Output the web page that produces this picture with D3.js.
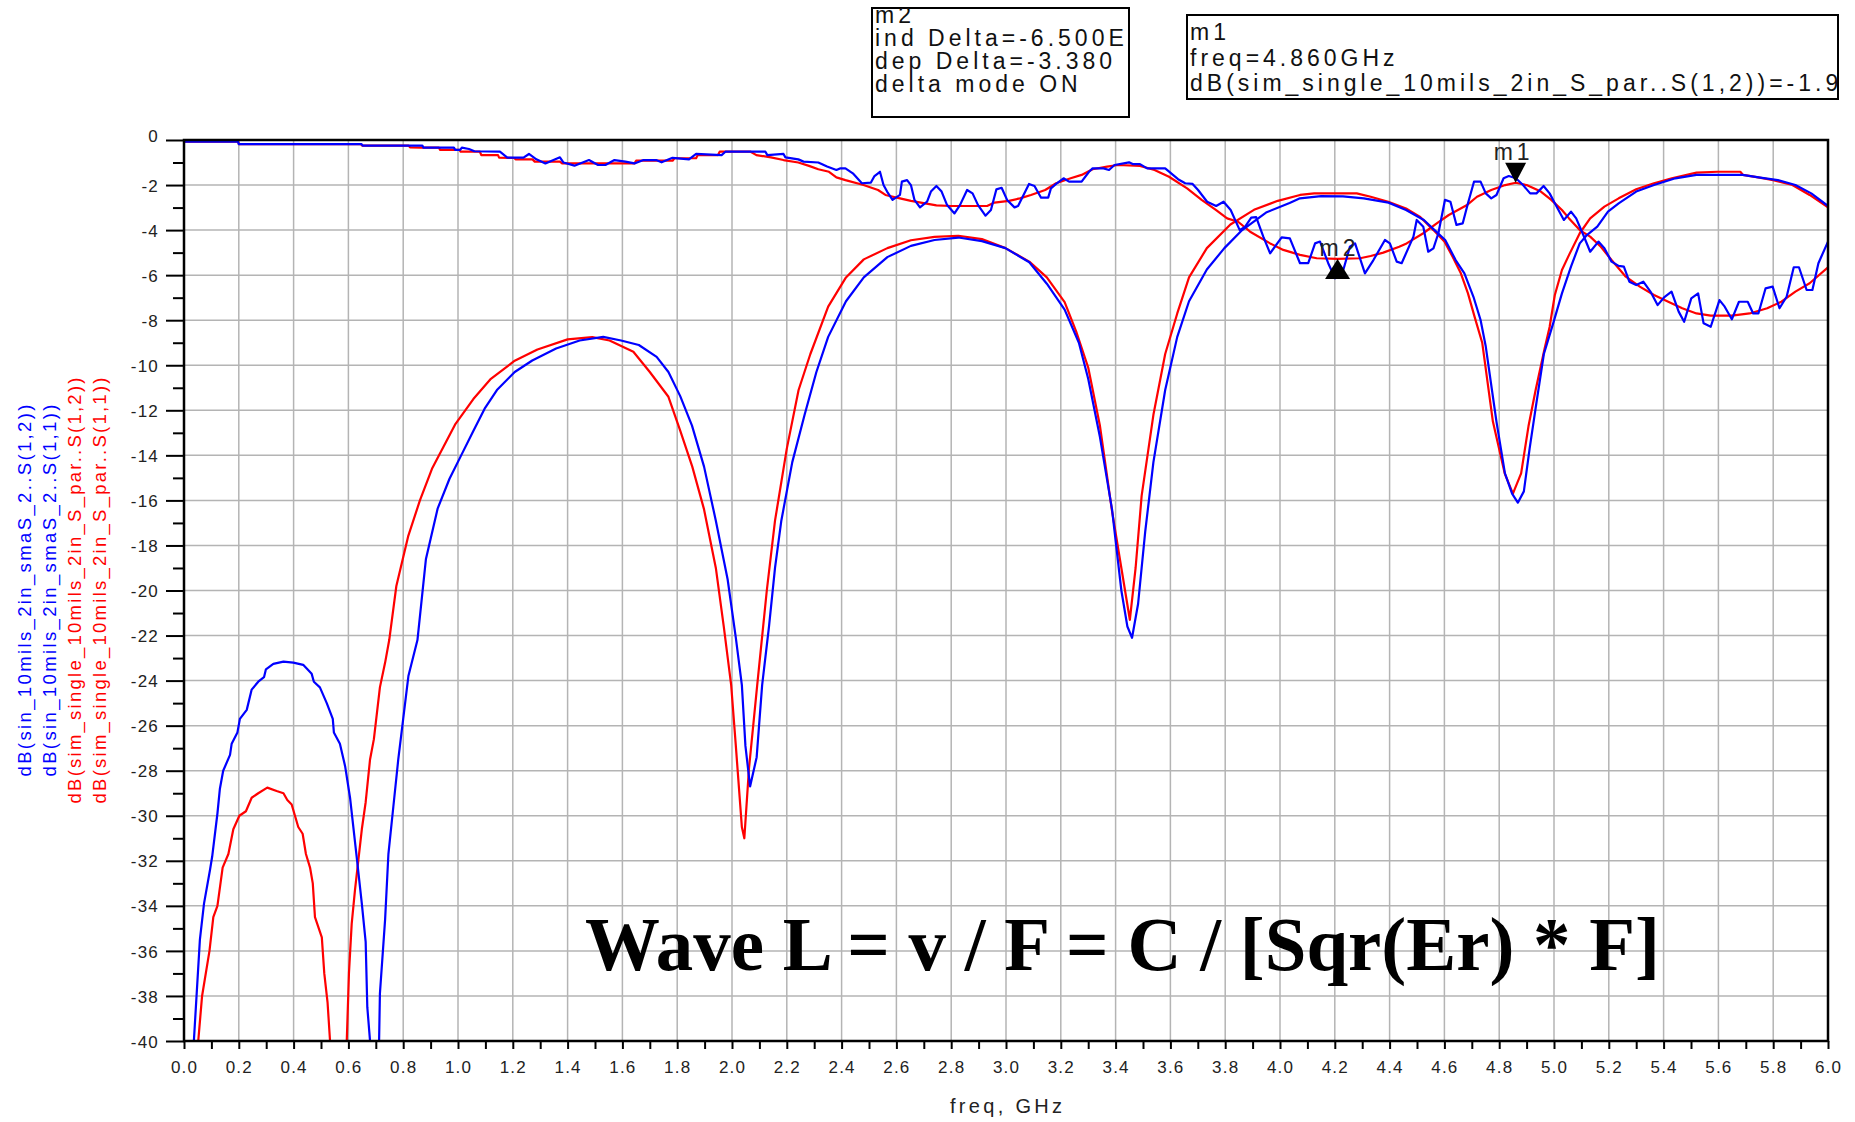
<!DOCTYPE html>
<html>
<head>
<meta charset="utf-8">
<script src="https://cdn.jsdelivr.net/npm/d3@7"></script>
<style>
  html, body { margin: 0; padding: 0; background: #ffffff; }
  svg { display: block; }
</style>
</head>
<body>
<svg id="chart" width="1855" height="1122"></svg>
<script>
// ---------------- data ----------------
const xTickLabels = ["0.0","0.2","0.4","0.6","0.8","1.0","1.2","1.4","1.6","1.8","2.0","2.2","2.4","2.6","2.8",
  "3.0","3.2","3.4","3.6","3.8","4.0","4.2","4.4","4.6","4.8","5.0","5.2","5.4","5.6","5.8","6.0"];
const yTickLabels = ["0","-2","-4","-6","-8","-10","-12","-14","-16","-18","-20","-22","-24","-26","-28",
  "-30","-32","-34","-36","-38","-40"];

const seriesNames = [
  "dB(sin_10mils_2in_smaS_2..S(1,2))",
  "dB(sin_10mils_2in_smaS_2..S(1,1))",
  "dB(sim_single_10mils_2in_S_par..S(1,2))",
  "dB(sim_single_10mils_2in_S_par..S(1,1))"
];

// measured S(1,2), [freq GHz, dB]
const s12Meas = [[0,-0.07],[0.197,-0.07],[0.2,-0.18],[0.648,-0.18],[0.652,-0.25],[0.87,-0.25],[0.874,-0.34],[0.985,-0.34],
  [0.99,-0.44],[1.008,-0.44],[1.014,-0.34],[1.04,-0.40],[1.06,-0.50],[1.153,-0.52],[1.18,-0.78],[1.239,-0.78],[1.259,-0.62],
  [1.286,-0.86],[1.319,-1.04],[1.372,-0.77],[1.385,-1.0],[1.425,-1.14],[1.478,-0.89],[1.511,-1.11],[1.538,-1.11],[1.571,-0.89],
  [1.611,-0.96],[1.644,-1.04],[1.677,-0.89],[1.723,-0.89],[1.743,-0.99],[1.783,-0.79],[1.843,-0.86],[1.869,-0.62],[1.962,-0.67],
  [1.976,-0.52],[2.122,-0.52],[2.129,-0.67],[2.188,-0.62],[2.195,-0.77],[2.242,-0.86],[2.261,-0.96],[2.315,-1.0],[2.347,-1.18],
  [2.381,-1.33],[2.394,-1.26],[2.414,-1.26],[2.441,-1.48],[2.474,-1.92],[2.507,-1.89],[2.52,-1.60],[2.54,-1.41],[2.553,-2.0],
  [2.566,-2.29],[2.586,-2.66],[2.613,-2.44],[2.62,-1.85],[2.639,-1.78],[2.653,-2.0],[2.666,-2.66],[2.686,-2.99],[2.712,-2.74],
  [2.726,-2.29],[2.746,-2.04],[2.765,-2.29],[2.785,-2.89],[2.812,-3.26],[2.832,-2.89],[2.858,-2.22],[2.878,-2.37],[2.898,-2.89],
  [2.925,-3.36],[2.945,-3.11],[2.965,-2.19],[2.984,-2.12],[3.004,-2.66],[3.031,-2.99],[3.044,-2.93],[3.064,-2.44],[3.084,-1.95],
  [3.104,-2.04],[3.128,-2.56],[3.154,-2.56],[3.164,-2.15],[3.183,-1.95],[3.21,-1.70],[3.23,-1.85],[3.276,-1.85],[3.303,-1.41],
  [3.316,-1.26],[3.356,-1.26],[3.376,-1.33],[3.396,-1.11],[3.449,-0.99],[3.462,-1.07],[3.489,-1.07],[3.515,-1.26],[3.581,-1.26],
  [3.628,-1.74],[3.654,-1.92],[3.681,-1.95],[3.701,-2.22],[3.734,-2.74],[3.767,-2.93],[3.794,-2.74],[3.82,-3.11],[3.853,-4.0],
  [3.873,-3.85],[3.895,-3.45],[3.913,-3.42],[3.939,-4.29],[3.964,-5.03],[4.006,-4.32],[4.036,-4.37],[4.073,-5.47],[4.103,-5.47],
  [4.128,-4.59],[4.146,-4.51],[4.176,-5.47],[4.201,-6.14],[4.231,-5.77],[4.255,-4.74],[4.274,-4.59],[4.31,-5.92],[4.341,-5.33],
  [4.383,-4.44],[4.401,-4.59],[4.426,-5.40],[4.444,-5.47],[4.487,-4.29],[4.499,-3.55],[4.523,-3.85],[4.541,-4.96],[4.56,-4.81],
  [4.578,-4.14],[4.602,-2.66],[4.622,-2.74],[4.644,-3.77],[4.667,-3.70],[4.686,-2.81],[4.708,-1.85],[4.732,-1.85],[4.751,-2.37],
  [4.771,-2.59],[4.79,-2.44],[4.816,-1.70],[4.835,-1.60],[4.861,-1.70],[4.887,-2.0],[4.913,-2.37],[4.936,-2.37],[4.962,-2.04],
  [4.984,-2.37],[5.003,-2.81],[5.036,-3.55],[5.062,-3.18],[5.081,-3.48],[5.107,-4.22],[5.132,-4.96],[5.162,-4.51],[5.184,-4.81],
  [5.21,-5.40],[5.236,-5.59],[5.255,-5.62],[5.275,-6.29],[5.30,-6.44],[5.326,-6.29],[5.352,-6.73],[5.378,-7.33],[5.404,-6.96],
  [5.429,-6.73],[5.455,-7.62],[5.475,-8.07],[5.501,-7.03],[5.526,-6.81],[5.546,-8.14],[5.572,-8.29],[5.604,-7.11],[5.623,-7.40],
  [5.649,-7.96],[5.675,-7.18],[5.707,-7.18],[5.727,-7.70],[5.746,-7.70],[5.772,-6.59],[5.798,-6.51],[5.823,-7.47],[5.849,-6.96],
  [5.875,-5.65],[5.894,-5.65],[5.922,-6.66],[5.943,-6.66],[5.965,-5.47],[6.0,-4.51]];

// measured S(1,1)
const s11Meas = [[0.030,-42],[0.036,-40],[0.058,-35.5],[0.073,-33.9],[0.095,-32.4],[0.103,-31.8],[0.122,-29.9],[0.131,-28.8],
  [0.143,-28.0],[0.168,-27.3],[0.174,-26.8],[0.195,-26.3],[0.204,-25.7],[0.229,-25.3],[0.247,-24.4],[0.271,-24.05],[0.292,-23.85],
  [0.299,-23.5],[0.326,-23.26],[0.363,-23.16],[0.399,-23.2],[0.435,-23.3],[0.466,-23.7],[0.474,-24.05],[0.496,-24.3],[0.521,-25.0],
  [0.543,-25.7],[0.547,-26.3],[0.569,-26.8],[0.588,-27.8],[0.606,-29.2],[0.630,-31.8],[0.649,-33.9],[0.663,-35.6],[0.669,-38.5],
  [0.679,-40],[0.695,-46],[0.712,-40],[0.715,-37.9],[0.734,-34.6],[0.746,-31.7],[0.764,-29.6],[0.782,-27.5],[0.800,-25.7],
  [0.819,-23.8],[0.852,-22.2],[0.883,-18.6],[0.926,-16.35],[0.969,-15.04],[1.012,-13.99],[1.055,-12.94],[1.099,-11.89],
  [1.142,-11.1],[1.207,-10.3],[1.271,-9.79],[1.358,-9.26],[1.444,-8.9],[1.530,-8.74],[1.595,-8.9],[1.660,-9.1],[1.725,-9.63],
  [1.768,-10.3],[1.811,-11.37],[1.854,-12.68],[1.898,-14.5],[1.941,-16.9],[1.984,-19.5],[2.014,-22.1],[2.036,-24.2],[2.049,-26.9],
  [2.066,-28.7],[2.09,-27.4],[2.11,-24.2],[2.135,-21.6],[2.157,-19.0],[2.18,-16.9],[2.22,-14.3],[2.265,-12.2],[2.308,-10.3],
  [2.351,-8.74],[2.416,-7.16],[2.481,-6.1],[2.567,-5.2],[2.653,-4.7],[2.739,-4.44],[2.826,-4.33],[2.912,-4.49],[2.998,-4.8],
  [3.085,-5.43],[3.149,-6.38],[3.214,-7.53],[3.266,-9.0],[3.3,-10.6],[3.343,-13.2],[3.387,-16.4],[3.421,-20.0],[3.443,-21.6],
  [3.46,-22.1],[3.482,-20.6],[3.508,-17.4],[3.538,-14.3],[3.581,-11.1],[3.625,-8.74],[3.668,-7.16],[3.733,-5.75],[3.797,-4.8],
  [3.862,-4.0],[3.949,-3.22],[4.035,-2.8],[4.073,-2.59],[4.150,-2.49],[4.23,-2.5],[4.306,-2.59],[4.396,-2.78],[4.460,-3.11],
  [4.525,-3.55],[4.564,-4.0],[4.603,-4.44],[4.641,-5.33],[4.673,-5.92],[4.706,-6.96],[4.732,-7.99],[4.751,-9.17],[4.79,-12.5],
  [4.821,-14.8],[4.847,-15.7],[4.868,-16.1],[4.89,-15.6],[4.911,-13.7],[4.933,-11.9],[4.963,-9.5],[4.997,-8.14],[5.029,-6.81],
  [5.062,-5.62],[5.094,-4.59],[5.120,-4.22],[5.158,-3.85],[5.197,-3.18],[5.236,-2.81],[5.30,-2.29],[5.365,-2.0],[5.443,-1.70],
  [5.52,-1.55],[5.623,-1.55],[5.688,-1.55],[5.753,-1.67],[5.817,-1.78],[5.881,-2.0],[5.939,-2.37],[6.0,-2.93]];

// simulated S(1,2)
const s12Sim = [[0,-0.07],[0.198,-0.07],[0.2,-0.18],[0.645,-0.18],[0.65,-0.25],[0.82,-0.25],[0.825,-0.33],[0.865,-0.34],
  [0.93,-0.34],[0.935,-0.44],[1.005,-0.44],[1.01,-0.52],[1.08,-0.52],[1.085,-0.67],[1.146,-0.67],[1.15,-0.78],[1.206,-0.80],
  [1.21,-0.86],[1.272,-0.86],[1.28,-0.96],[1.372,-0.96],[1.38,-1.04],[1.644,-1.04],[1.65,-0.92],[1.783,-0.92],[1.79,-0.81],
  [1.869,-0.81],[1.875,-0.67],[1.949,-0.67],[1.955,-0.52],[2.068,-0.52],[2.089,-0.67],[2.142,-0.77],[2.188,-0.89],[2.242,-1.0],
  [2.281,-1.15],[2.315,-1.30],[2.354,-1.41],[2.381,-1.66],[2.414,-1.78],[2.48,-2.0],[2.533,-2.22],[2.56,-2.44],[2.613,-2.59],
  [2.653,-2.70],[2.746,-2.90],[2.799,-2.93],[2.931,-2.93],[2.958,-2.78],[3.011,-2.70],[3.051,-2.59],[3.091,-2.44],[3.143,-2.22],
  [3.183,-1.92],[3.236,-1.70],[3.276,-1.55],[3.316,-1.30],[3.369,-1.18],[3.409,-1.11],[3.489,-1.15],[3.542,-1.33],[3.595,-1.63],
  [3.661,-2.15],[3.714,-2.66],[3.767,-3.11],[3.807,-3.48],[3.847,-3.63],[3.891,-4.07],[3.964,-4.59],[4.012,-4.88],[4.073,-5.10],
  [4.134,-5.25],[4.21,-5.28],[4.292,-5.25],[4.331,-5.15],[4.377,-5.0],[4.435,-4.74],[4.462,-4.59],[4.523,-4.14],[4.572,-3.70],
  [4.616,-3.33],[4.681,-2.90],[4.719,-2.52],[4.771,-2.22],[4.822,-2.0],[4.86,-1.90],[4.9,-2.0],[4.952,-2.29],[4.99,-2.66],
  [5.029,-3.11],[5.055,-3.48],[5.094,-4.0],[5.132,-4.29],[5.171,-4.74],[5.21,-5.33],[5.262,-6.07],[5.313,-6.51],[5.365,-6.88],
  [5.417,-7.18],[5.468,-7.47],[5.52,-7.70],[5.572,-7.80],[5.649,-7.80],[5.714,-7.70],[5.778,-7.47],[5.83,-7.18],[5.881,-6.73],
  [5.933,-6.36],[6.0,-5.65]];

// simulated S(1,1)
const s11Sim = [[0.047,-42],[0.052,-40],[0.066,-38],[0.093,-36],[0.107,-34.5],[0.122,-34],[0.141,-32.3],[0.162,-31.7],
  [0.180,-30.6],[0.202,-30.0],[0.226,-29.8],[0.247,-29.2],[0.271,-29.0],[0.304,-28.75],[0.338,-28.9],[0.363,-29.0],[0.377,-29.3],
  [0.393,-29.5],[0.405,-30.0],[0.417,-30.5],[0.433,-30.8],[0.445,-31.7],[0.460,-32.3],[0.470,-33.0],[0.478,-34.5],[0.503,-35.4],
  [0.512,-37.0],[0.524,-38.3],[0.533,-40],[0.563,-47],[0.594,-40],[0.602,-37.0],[0.612,-34.8],[0.624,-33.3],[0.649,-30.6],
  [0.663,-29.4],[0.679,-27.5],[0.693,-26.6],[0.715,-24.3],[0.734,-23.2],[0.749,-22.2],[0.775,-19.8],[0.818,-17.6],[0.861,-16.0],
  [0.905,-14.6],[0.948,-13.6],[0.991,-12.6],[1.056,-11.5],[1.12,-10.6],[1.207,-9.8],[1.29,-9.3],[1.4,-8.85],[1.49,-8.75],
  [1.553,-8.9],[1.64,-9.4],[1.70,-10.3],[1.768,-11.4],[1.811,-12.9],[1.855,-14.5],[1.898,-16.4],[1.941,-19.0],[1.97,-21.6],
  [1.997,-24.2],[2.014,-26.9],[2.036,-30.5],[2.045,-31.0],[2.062,-27.9],[2.092,-24.2],[2.127,-20.0],[2.157,-16.9],[2.2,-13.7],
  [2.243,-11.1],[2.286,-9.5],[2.351,-7.4],[2.416,-6.1],[2.481,-5.3],[2.567,-4.8],[2.653,-4.45],[2.739,-4.3],[2.826,-4.25],
  [2.912,-4.4],[2.998,-4.8],[3.085,-5.4],[3.149,-6.1],[3.214,-7.2],[3.256,-8.5],[3.3,-10.1],[3.343,-12.7],[3.386,-16.4],
  [3.421,-19.0],[3.452,-21.3],[3.473,-19.0],[3.495,-15.8],[3.538,-12.2],[3.581,-9.5],[3.625,-7.7],[3.668,-6.1],[3.733,-4.8],
  [3.819,-3.75],[3.905,-3.1],[3.992,-2.7],[4.073,-2.44],[4.125,-2.37],[4.28,-2.37],[4.331,-2.52],[4.395,-2.74],[4.46,-3.04],
  [4.51,-3.4],[4.56,-4.0],[4.60,-4.51],[4.63,-5.18],[4.66,-5.92],[4.686,-6.81],[4.71,-7.84],[4.738,-9.0],[4.777,-12.5],
  [4.82,-14.8],[4.85,-15.7],[4.88,-14.8],[4.907,-12.7],[4.933,-11.1],[4.965,-9.3],[4.984,-8.3],[5.003,-6.88],[5.029,-5.77],
  [5.055,-5.1],[5.094,-4.14],[5.132,-3.48],[5.184,-2.96],[5.236,-2.59],[5.30,-2.19],[5.365,-1.92],[5.43,-1.70],[5.52,-1.45],
  [5.597,-1.41],[5.68,-1.41],[5.69,-1.55],[5.75,-1.67],[5.80,-1.78],[5.87,-2.0],[5.933,-2.44],[6.0,-2.99]];

// markers: m1 on the simulated S(1,2); m2 placed relative to m1
const m1Freq = 4.86;
const indDelta = -0.65;          // GHz
const equation = "Wave L = v / F = C / [Sqr(Er) * F]";

// ---------------- layout ----------------
const svg = d3.select("#chart");
const x = d3.scaleLinear().domain([0, 6]).range([184, 1828]);
const y = d3.scaleLinear().domain([0, -40]).range([140, 1041]);
const [x0, x1] = x.range();
const [y0, y1] = y.range();

const BLUE = "#0000ff", RED = "#ff0000", GRID = "#b4b4b4";
const SANS = "'Liberation Sans', Arial, Helvetica, sans-serif";

svg.append("rect").attr("width", 1855).attr("height", 1122).attr("fill", "#fff");

const xMajor = xTickLabels.map(Number);
const yMajor = yTickLabels.map(Number);
const xMinor = d3.range(0, 30).map(i => i * 0.2 + 0.1);
const yMinor = d3.range(-39, 0, 2);

// grid
const grid = svg.append("g").attr("stroke", GRID).attr("stroke-width", 1.5);
grid.selectAll("line.v").data(xMajor.slice(1, -1)).join("line")
  .attr("x1", d => x(d)).attr("x2", d => x(d)).attr("y1", y0).attr("y2", y1);
grid.selectAll("line.h").data(yMajor.slice(1, -1)).join("line")
  .attr("y1", d => y(d)).attr("y2", d => y(d)).attr("x1", x0).attr("x2", x1);

// curves
svg.append("clipPath").attr("id", "plotClip").append("rect")
  .attr("x", x0).attr("y", y0 - 1).attr("width", x1 - x0).attr("height", y1 - y0 + 1);
const line = d3.line().x(d => x(d[0])).y(d => y(d[1]));
const curves = svg.append("g").attr("clip-path", "url(#plotClip)")
  .attr("fill", "none").attr("stroke-width", 2.2).attr("stroke-linejoin", "round");
[[s11Sim, RED], [s12Sim, RED], [s11Meas, BLUE], [s12Meas, BLUE]].forEach(([d, c]) => {
  curves.append("path").datum(d).attr("stroke", c).attr("d", line);
});

// axes
const yAxis = d3.axisLeft(y).tickValues(yMajor).tickSize(18).tickPadding(7).tickFormat((d, i) => yTickLabels[i]);
const yAxisMinor = d3.axisLeft(y).tickValues(yMinor).tickSize(11).tickFormat("");
const xAxis = d3.axisBottom(x).tickValues(xMajor).tickSize(8).tickPadding(12).tickFormat((d, i) => xTickLabels[i]);
const xAxisMinor = d3.axisBottom(x).tickValues(xMinor).tickSize(8).tickFormat("");

function styleAxis(g) {
  g.select(".domain").remove();
  g.selectAll(".tick line").attr("stroke", "#000").attr("stroke-width", 2);
  g.selectAll(".tick text").attr("fill", "#222").attr("font-family", SANS)
    .attr("font-size", 17).attr("letter-spacing", 1.2);
}
svg.append("g").attr("transform", `translate(${x0},0)`).call(yAxisMinor).call(styleAxis);
const gy = svg.append("g").attr("transform", `translate(${x0},0)`).call(yAxis).call(styleAxis);
gy.selectAll(".tick text").attr("dy", "0.36em");
gy.selectAll(".tick").filter(d => d === 0).select("text").attr("dy", "0.1em");
svg.append("g").attr("transform", `translate(0,${y1})`).call(xAxisMinor).call(styleAxis);
svg.append("g").attr("transform", `translate(0,${y1})`).call(xAxis).call(styleAxis);

// frame
svg.append("rect").attr("x", x0).attr("y", y0).attr("width", x1 - x0).attr("height", y1 - y0)
  .attr("fill", "none").attr("stroke", "#000").attr("stroke-width", 2.5);

// axis titles
svg.append("text").attr("x", (x0 + x1) / 2).attr("y", 1113).attr("text-anchor", "middle")
  .attr("font-family", SANS).attr("font-size", 20).attr("fill", "#222")
  .attr("textLength", 112).attr("lengthAdjust", "spacing")
  .text("freq, GHz");

const titleCols = [
  { name: seriesNames[0], color: BLUE, x: 31, len: 372 },
  { name: seriesNames[1], color: BLUE, x: 56, len: 372 },
  { name: seriesNames[2], color: RED, x: 81, len: 426 },
  { name: seriesNames[3], color: RED, x: 106, len: 426 }
];
svg.selectAll("text.ytitle").data(titleCols).join("text")
  .attr("class", "ytitle")
  .attr("transform", d => `translate(${d.x},${(y0 + y1) / 2}) rotate(-90)`)
  .attr("text-anchor", "middle").attr("font-family", SANS).attr("font-size", 18.5)
  .attr("fill", d => d.color).attr("textLength", d => d.len).attr("lengthAdjust", "spacing")
  .text(d => d.name);

// equation annotation
svg.append("text").attr("x", 585).attr("y", 970)
  .attr("font-family", "'Liberation Serif', 'Times New Roman', serif").attr("font-weight", "bold")
  .attr("font-size", 77).attr("fill", "#000").attr("textLength", 1075).attr("lengthAdjust", "spacingAndGlyphs")
  .text(equation);

// markers
function valueAt(series, f) {
  return series.reduce((a, b) => Math.abs(b[0] - f) < Math.abs(a[0] - f) ? b : a)[1];
}
const m1Value = valueAt(s12Sim, m1Freq);
const m2Freq = m1Freq + indDelta;
const m2Value = valueAt(s12Sim, m2Freq);
const depDelta = m2Value - m1Value;

const mk = svg.append("g");
// m1: downward triangle with its tip on the point
mk.append("path")
  .attr("d", `M${x(m1Freq)},${y(m1Value)} l-10.5,-20 h21 Z`).attr("fill", "#000");
mk.append("text").attr("x", x(m1Freq) - 2).attr("y", y(m1Value) - 23).attr("text-anchor", "middle")
  .attr("font-family", SANS).attr("font-size", 23).attr("letter-spacing", 4).attr("fill", "#222").text("m1");
// m2: upward triangle with its tip on the point
mk.append("path")
  .attr("d", `M${x(m2Freq)},${y(m2Value)} l-12.5,20 h25 Z`).attr("fill", "#000");
mk.append("text").attr("x", x(m2Freq) + 2).attr("y", y(m2Value) - 3).attr("text-anchor", "middle")
  .attr("font-family", SANS).attr("font-size", 23).attr("letter-spacing", 4).attr("fill", "#222").text("m2");

// marker readout boxes
function readout(id, bx, by, bw, bh, lines, baselines) {
  svg.append("clipPath").attr("id", id).append("rect")
    .attr("x", bx).attr("y", by).attr("width", bw).attr("height", bh);
  svg.append("rect").attr("x", bx).attr("y", by).attr("width", bw).attr("height", bh)
    .attr("fill", "#fff").attr("stroke", "#000").attr("stroke-width", 2);
  svg.append("g").attr("clip-path", `url(#${id})`)
    .selectAll("text").data(lines).join("text")
    .attr("x", bx + 3).attr("y", (d, i) => baselines[i])
    .attr("font-family", SANS).attr("font-size", 23).attr("letter-spacing", 4).attr("fill", "#111")
    .text(d => d);
}
const expo = (indDelta * 1e9).toExponential(3).toUpperCase().replace("+", "");
readout("boxM2", 872, 8, 257, 109,
  ["m2", `ind Delta=${expo}`, `dep Delta=${depDelta.toFixed(3)}`, "delta mode ON"],
  [23, 46, 69, 92]);
readout("boxM1", 1187, 15, 651, 84,
  ["m1", `freq=${m1Freq.toFixed(3)}GHz`, `${seriesNames[2]}=${m1Value.toFixed(3)}`],
  [40, 66, 91]);
</script>
</body>
</html>
